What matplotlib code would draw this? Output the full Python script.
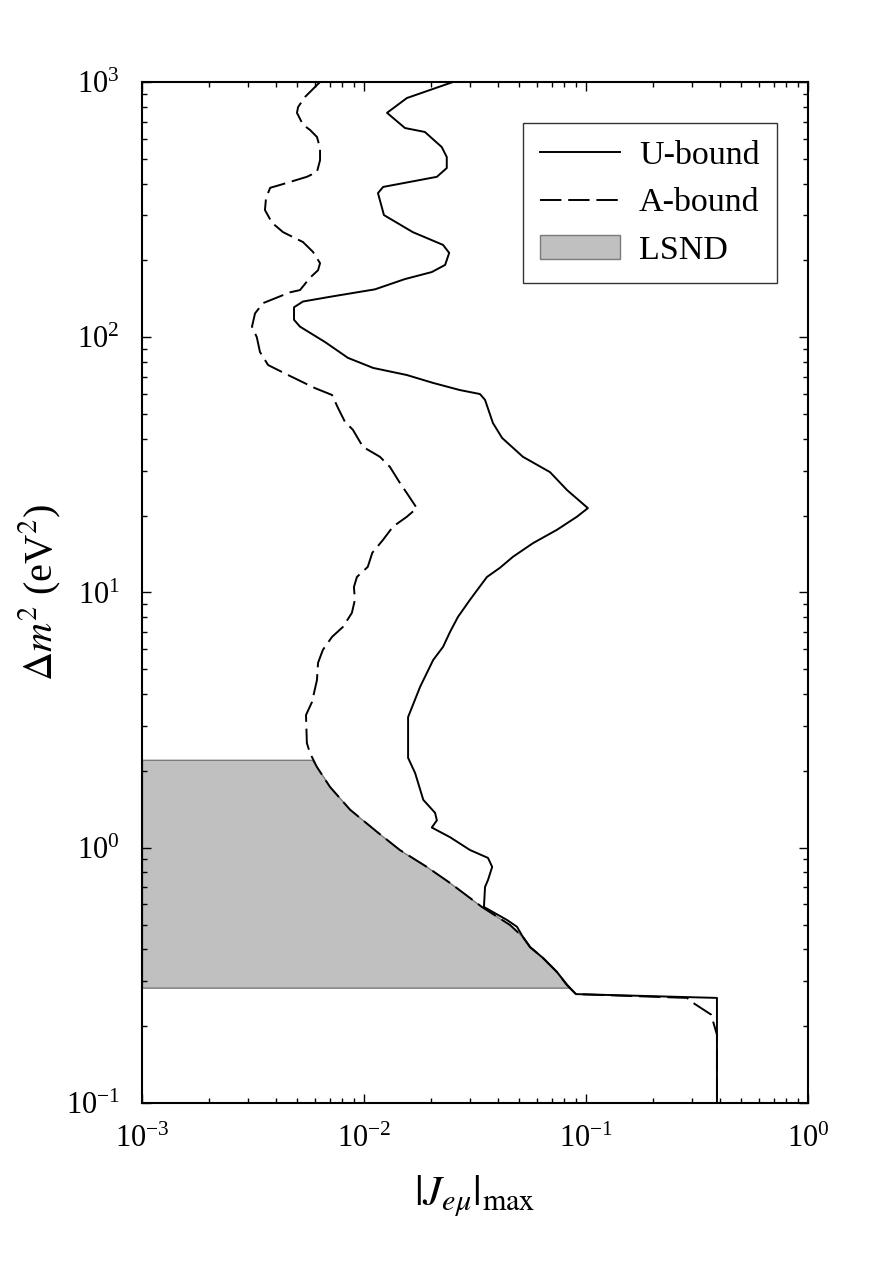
import numpy as np
import matplotlib
matplotlib.use('Agg')
import matplotlib.pyplot as plt

plt.rcParams['font.family'] = 'serif'
plt.rcParams['font.serif'] = ['Liberation Serif', 'DejaVu Serif']
plt.rcParams['mathtext.fontset'] = 'stix'
plt.rcParams['axes.unicode_minus'] = False

# U-bound (solid): |J_emu|_max vs dm^2 top to bottom
u_m2 = [1000, 865, 757, 660, 637, 556, 508, 460, 425, 388, 367, 301, 258, 230, 214,
        192, 180, 169, 154, 144, 138, 131, 117, 110, 95.8, 83.0, 75.8, 71.1, 66.2,
        62.1, 59.9, 56.8, 46.1, 40.3, 34.0, 29.6, 25.2, 21.4, 19.8, 17.6, 15.6, 13.8,
        12.5, 11.5, 10.2, 9.35, 8.02, 7.00, 6.12, 5.44, 4.27, 3.25, 2.25, 1.96, 1.54,
        1.37, 1.28, 1.20, 1.10, 0.980, 0.912, 0.841, 0.748, 0.702, 0.586, 0.521, 0.490,
        0.447, 0.408, 0.370, 0.326, 0.290, 0.267, 0.258, 0.1]
u_j = [0.0252, 0.0156, 0.0127, 0.0153, 0.0188, 0.0224, 0.0236, 0.0236, 0.0213, 0.0122,
       0.01156, 0.0123, 0.0166, 0.0227, 0.0242, 0.0232, 0.0202, 0.0153, 0.0112, 0.00703,
       0.00531, 0.00484, 0.00484, 0.00515, 0.00667, 0.00847, 0.0110, 0.0156, 0.0205,
       0.0270, 0.0333, 0.0351, 0.0381, 0.0419, 0.0520, 0.0689, 0.0821, 0.102, 0.0910,
       0.0740, 0.0577, 0.0469, 0.0410, 0.0358, 0.0323, 0.0300, 0.0265, 0.0244, 0.0227,
       0.0205, 0.0179, 0.0158, 0.0158, 0.0170, 0.0185, 0.0209, 0.0213, 0.0202, 0.0244,
       0.0300, 0.0362, 0.0378, 0.0362, 0.0351, 0.0347, 0.0441, 0.0489, 0.0520, 0.0560,
       0.0640, 0.0740, 0.0821, 0.0901, 0.389, 0.389]

# A-bound (dashed)
a_m2 = [1000, 873, 798, 757, 680, 649, 609, 551, 494, 444, 425, 395, 385, 351, 315,
        281, 258, 236, 216, 195, 183, 171, 153, 150, 136, 124, 110, 100, 87.5, 77.8,
        71.1, 63.2, 59.4, 52.8, 46.6, 43.4, 37.2, 34.0, 31.0, 26.9, 24.5, 21.4, 19.8,
        18.1, 16.1, 14.3, 12.6, 11.5, 10.5, 9.35, 8.32, 7.33, 6.70, 5.96, 5.30, 4.54,
        3.72, 3.31, 2.57, 2.35, 2.07, 1.73, 1.41, 1.15, 0.980, 0.841, 0.728, 0.586,
        0.498, 0.447, 0.408, 0.370, 0.326, 0.290, 0.267, 0.258, 0.247, 0.222, 0.185, 0.1]
a_j = [0.00634, 0.00542, 0.00505, 0.00499, 0.00531, 0.00571, 0.00614, 0.00634, 0.00634,
       0.00614, 0.00553, 0.00419, 0.00378, 0.00362, 0.00358, 0.00385, 0.00432, 0.00531,
       0.00589, 0.00634, 0.00621, 0.00571, 0.00515, 0.00465, 0.00351, 0.00323, 0.00313,
       0.00329, 0.00340, 0.00370, 0.00455, 0.00601, 0.00718, 0.00764, 0.00821, 0.00891,
       0.00989, 0.0118, 0.0131, 0.0145, 0.0156, 0.0173, 0.0156, 0.0135, 0.0122, 0.0109,
       0.0104, 0.00929, 0.00901, 0.00910, 0.00882, 0.00804, 0.00718, 0.00653, 0.00621,
       0.00614, 0.00583, 0.00548, 0.00553, 0.00571, 0.00614, 0.00703, 0.00865, 0.0115,
       0.0145, 0.0192, 0.0244, 0.0340, 0.0455, 0.0520, 0.0560, 0.0640, 0.0740, 0.0821,
       0.0901, 0.285, 0.303, 0.366, 0.389, 0.389]

# LSND region (right edge follows the A-bound)
lsnd_m2 = [2.21, 2.07, 1.73, 1.41, 1.15, 0.980, 0.841, 0.728, 0.586, 0.498, 0.447,
           0.408, 0.370, 0.326, 0.283]
lsnd_j = [0.00583, 0.00614, 0.00703, 0.00865, 0.0115, 0.0145, 0.0192, 0.0244, 0.0340,
          0.0455, 0.0520, 0.0560, 0.0640, 0.0740, 0.0846]

fig = plt.figure(figsize=(8.77, 12.63), dpi=100)
ax = fig.add_axes([0.1619, 0.1267, 0.7594, 0.8084])

lsnd = ax.fill_betweenx(lsnd_m2, 1e-3, lsnd_j, facecolor='#c0c0c0', edgecolor='#7a7a7a',
                        linewidth=1.0, label='LSND', zorder=1)
line_u, = ax.plot(u_j, u_m2, color='black', lw=1.4, label='U-bound', zorder=3)
line_a, = ax.plot(a_j, a_m2, color='black', lw=1.4, dashes=(11, 3.5), label='A-bound', zorder=2)

ax.set_xscale('log')
ax.set_yscale('log')
ax.set_xlim(1e-3, 1e0)
ax.set_ylim(1e-1, 1e3)

ax.tick_params(which='both', direction='in', top=True, right=True, width=1.0)
ax.tick_params(which='major', length=6.5, labelsize=22)
ax.tick_params(which='minor', length=3.6)
ax.tick_params(axis='x', which='major', pad=16)
ax.tick_params(axis='y', which='major', pad=16)
for sp in ax.spines.values():
    sp.set_linewidth(1.5)

ax.set_xlabel(r'$|J_{e\mu}|_{\mathrm{max}}$', fontsize=31, labelpad=14)
ax.set_ylabel(r'$\Delta m^2$ (eV$^2$)', fontsize=29, labelpad=2)

leg = ax.legend(handles=[line_u, line_a, lsnd], loc='upper right',
                bbox_to_anchor=(0.953, 0.960), borderaxespad=0, fontsize=24.5,
                frameon=True, fancybox=False, edgecolor='black', handlelength=2.35,
                handletextpad=0.55, labelspacing=0.5, borderpad=0.5)
leg.get_frame().set_linewidth(1.0)

fig.savefig('out.png', dpi=100)
